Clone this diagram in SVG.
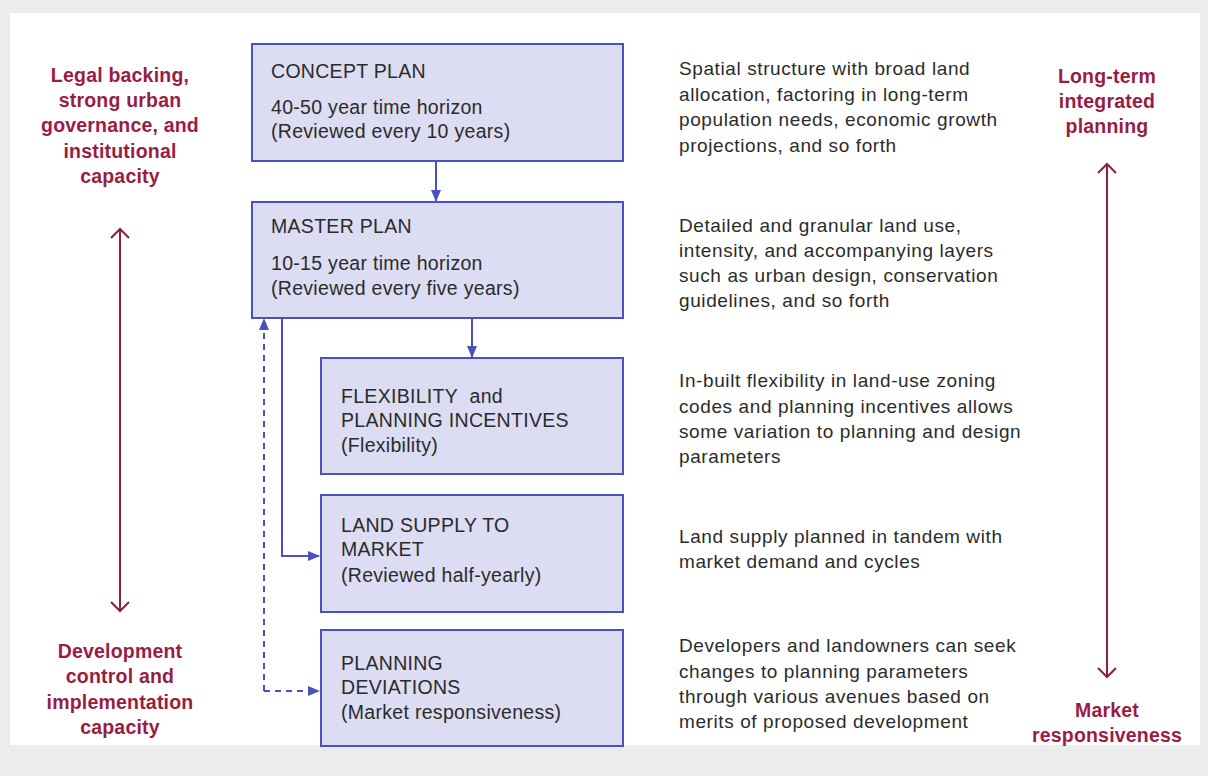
<svg xmlns="http://www.w3.org/2000/svg" width="1208" height="776" viewBox="0 0 1208 776">
<defs>
<style>
.box{fill:#dcdcf2;stroke:#4a50c2;stroke-width:2}
.bt{font-family:"Liberation Sans",Arial,sans-serif;font-size:19.5px;letter-spacing:0.3px;fill:#2b2b2b}
.dt{font-family:"Liberation Sans",Arial,sans-serif;font-size:19px;letter-spacing:0.6px;fill:#2b2b2b}
.rt{font-family:"Liberation Sans",Arial,sans-serif;font-size:19.5px;font-weight:bold;letter-spacing:0.2px;fill:#9a1c44;text-anchor:middle}
.con{fill:none;stroke:#4a50c2;stroke-width:2}
.dash{stroke-dasharray:6,5}
.red{fill:none;stroke:#8e1f42;stroke-width:2}
</style>
<marker id="ah" markerUnits="userSpaceOnUse" markerWidth="12" markerHeight="12" viewBox="0 0 12 12" refX="11" refY="6" orient="auto">
<path d="M0,1 L12,6 L0,11 Z" fill="#4a50c2"/>
</marker>
<marker id="chev" markerUnits="userSpaceOnUse" markerWidth="20" markerHeight="20" viewBox="0 0 20 20" refX="18" refY="10" orient="auto">
<path d="M9,1 L18,10 L9,19" fill="none" stroke="#8e1f42" stroke-width="2"/>
</marker>
</defs>
<rect x="0" y="0" width="1208" height="776" fill="#ececec"/>
<rect x="10" y="13" width="1190" height="732" fill="#ffffff"/>

<g id="connectors">
<path class="con" d="M436,161 V201" marker-end="url(#ah)"/>
<path class="con" d="M472,318 V357" marker-end="url(#ah)"/>
<path class="con" d="M282,318 V556 H319" marker-end="url(#ah)"/>
<path class="con dash" d="M264,691 H319" marker-end="url(#ah)"/>
<path class="con dash" d="M264,691 V319" marker-end="url(#ah)"/>
<path class="red" d="M120,610 V229" marker-end="url(#chev)"/>
<path class="red" d="M120,229 V611" marker-end="url(#chev)"/>
<path class="red" d="M1107,676 V164" marker-end="url(#chev)"/>
<path class="red" d="M1107,164 V677" marker-end="url(#chev)"/>
</g>

<g id="concept-plan">
<rect class="box" x="252" y="44" width="371" height="117"/>
<text class="bt" x="271" y="78">CONCEPT PLAN</text>
<text class="bt" x="271" y="114">40-50 year time horizon</text>
<text class="bt" x="271" y="138">(Reviewed every 10 years)</text>
</g>
<g id="master-plan">
<rect class="box" x="252" y="202" width="371" height="116"/>
<text class="bt" x="271" y="233">MASTER PLAN</text>
<text class="bt" x="271" y="270">10-15 year time horizon</text>
<text class="bt" x="271" y="295">(Reviewed every five years)</text>
</g>
<g id="flexibility">
<rect class="box" x="321" y="358" width="302" height="116"/>
<text class="bt" x="341" y="403">FLEXIBILITY&#160; and</text>
<text class="bt" x="341" y="427">PLANNING INCENTIVES</text>
<text class="bt" x="341" y="452">(Flexibility)</text>
</g>
<g id="land-supply">
<rect class="box" x="321" y="495" width="302" height="117"/>
<text class="bt" x="341" y="532">LAND SUPPLY TO</text>
<text class="bt" x="341" y="556">MARKET</text>
<text class="bt" x="341" y="582">(Reviewed half-yearly)</text>
</g>
<g id="planning-deviations">
<rect class="box" x="321" y="630" width="302" height="116"/>
<text class="bt" x="341" y="670">PLANNING</text>
<text class="bt" x="341" y="694">DEVIATIONS</text>
<text class="bt" x="341" y="719">(Market responsiveness)</text>
</g>

<g id="desc-concept">
<text class="dt" x="679" y="75">Spatial structure with broad land</text>
<text class="dt" x="679" y="101">allocation, factoring in long-term</text>
<text class="dt" x="679" y="126">population needs, economic growth</text>
<text class="dt" x="679" y="152">projections, and so forth</text>
</g>
<g id="desc-master">
<text class="dt" x="679" y="232">Detailed and granular land use,</text>
<text class="dt" x="679" y="257">intensity, and accompanying layers</text>
<text class="dt" x="679" y="282">such as urban design, conservation</text>
<text class="dt" x="679" y="307">guidelines, and so forth</text>
</g>
<g id="desc-flexibility">
<text class="dt" x="679" y="387">In-built flexibility in land-use zoning</text>
<text class="dt" x="679" y="413">codes and planning incentives allows</text>
<text class="dt" x="679" y="438">some variation to planning and design</text>
<text class="dt" x="679" y="463">parameters</text>
</g>
<g id="desc-land">
<text class="dt" x="679" y="543">Land supply planned in tandem with</text>
<text class="dt" x="679" y="568">market demand and cycles</text>
</g>
<g id="desc-deviations">
<text class="dt" x="679" y="652">Developers and landowners can seek</text>
<text class="dt" x="679" y="678">changes to planning parameters</text>
<text class="dt" x="679" y="703">through various avenues based on</text>
<text class="dt" x="679" y="728">merits of proposed development</text>
</g>

<g id="label-legal">
<text class="rt" x="120" y="82">Legal backing,</text>
<text class="rt" x="120" y="107">strong urban</text>
<text class="rt" x="120" y="132">governance, and</text>
<text class="rt" x="120" y="158">institutional</text>
<text class="rt" x="120" y="183">capacity</text>
</g>
<g id="label-development">
<text class="rt" x="120" y="658">Development</text>
<text class="rt" x="120" y="683">control and</text>
<text class="rt" x="120" y="709">implementation</text>
<text class="rt" x="120" y="734">capacity</text>
</g>
<g id="label-longterm">
<text class="rt" x="1107" y="83">Long-term</text>
<text class="rt" x="1107" y="108">integrated</text>
<text class="rt" x="1107" y="133">planning</text>
</g>
<g id="label-market">
<text class="rt" x="1107" y="717">Market</text>
<text class="rt" x="1107" y="742">responsiveness</text>
</g>
</svg>
